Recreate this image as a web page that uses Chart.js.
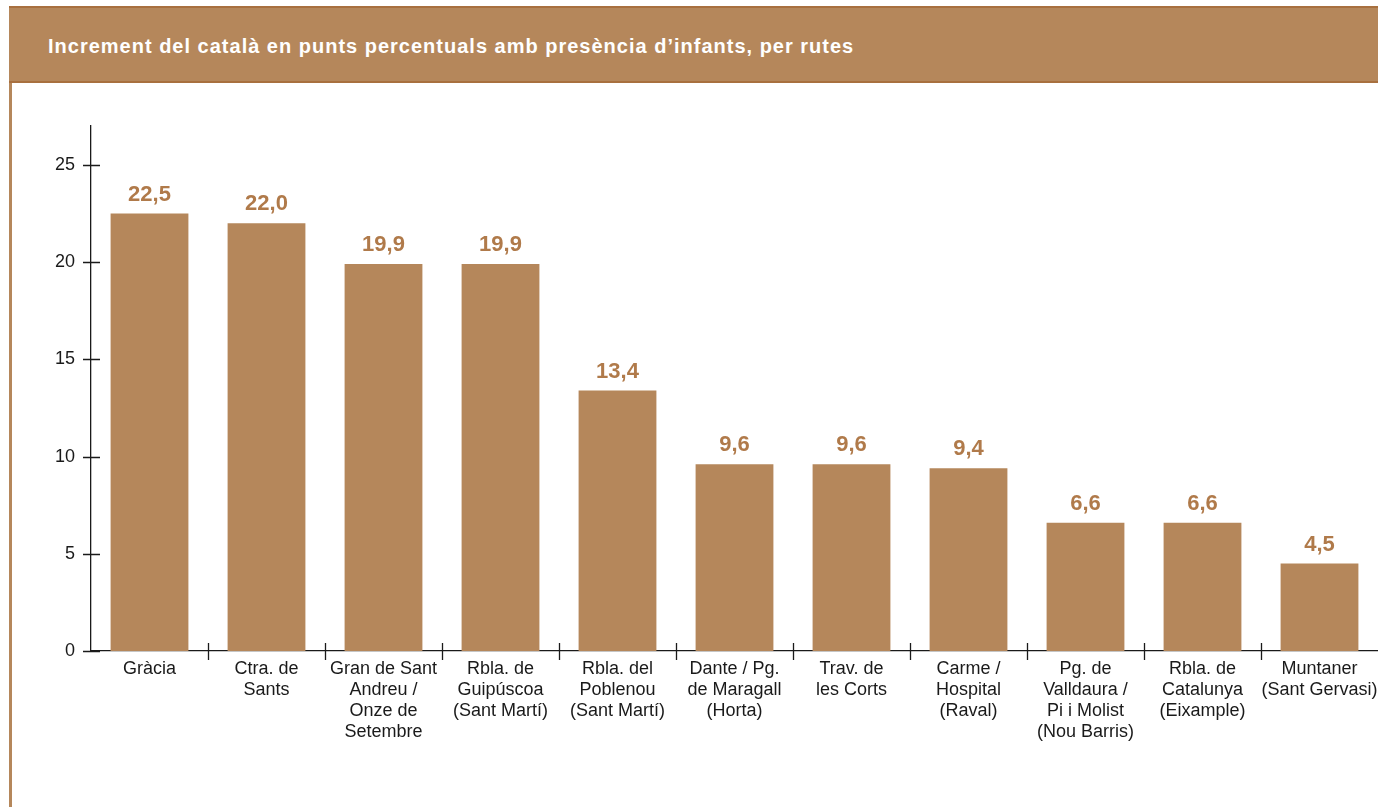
<!DOCTYPE html>
<html>
<head>
<meta charset="utf-8">
<script src="https://cdn.jsdelivr.net/npm/chart.js@4"></script>
<style>
  html, body { margin: 0; padding: 0; background: #fff; overflow: hidden; }
  body { width: 1378px; height: 807px; position: relative; }
  .header {
    position: absolute; left: 9px; top: 6px; width: 1380px; height: 73px;
    background: #b5875b; border-top: 2px solid #a8703f; border-bottom: 2px solid #a8703f;
    box-sizing: content-box;
  }
  .header h1 {
    margin: 0; position: absolute; left: 39px; top: 0; line-height: 77px;
    font-family: 'Liberation Sans', Arial, Helvetica, sans-serif;
    font-weight: bold; font-size: 20px; letter-spacing: 1px; color: #fff;
  }
  .side { position: absolute; left: 9px; top: 83px; width: 3px; height: 724px; background: #b5875b; }
  .chart-box { position: absolute; left: 12px; top: 84px; width: 1366px; height: 723px; }
</style>
</head>
<body>
<div class="header"><h1>Increment del català en punts percentuals amb presència d’infants, per rutes</h1></div>
<div class="side"></div>
<div class="chart-box"><canvas id="chart"></canvas></div>
<script>
// ── Data ──
const routes = [
  ['Gràcia'],
  ['Ctra. de', 'Sants'],
  ['Gran de Sant', 'Andreu /', 'Onze de', 'Setembre'],
  ['Rbla. de', 'Guipúscoa', '(Sant Martí)'],
  ['Rbla. del', 'Poblenou', '(Sant Martí)'],
  ['Dante / Pg.', 'de Maragall', '(Horta)'],
  ['Trav. de', 'les Corts'],
  ['Carme /', 'Hospital', '(Raval)'],
  ['Pg. de', 'Valldaura /', 'Pi i Molist', '(Nou Barris)'],
  ['Rbla. de', 'Catalunya', '(Eixample)'],
  ['Muntaner', '(Sant Gervasi)']
];
const increments = [22.5, 22.0, 19.9, 19.9, 13.4, 9.6, 9.6, 9.4, 6.6, 6.6, 4.5];
const yTicks = [0, 5, 10, 15, 20, 25];

const BROWN = '#b5875b';
const LABEL_BROWN = '#b07a4a';
const FONT = "'Liberation Sans', Arial, Helvetica, sans-serif";

// value labels above each bar, decimal comma
const valueLabels = {
  id: 'valueLabels',
  afterDatasetsDraw(chart) {
    const ctx = chart.ctx;
    const meta = chart.getDatasetMeta(0);
    ctx.save();
    ctx.fillStyle = LABEL_BROWN;
    ctx.font = 'bold 22px ' + FONT;
    ctx.textAlign = 'center';
    ctx.textBaseline = 'middle';
    meta.data.forEach((bar, i) => {
      ctx.fillText(increments[i].toFixed(1).replace('.', ','), bar.x, bar.y - 19);
    });
    ctx.restore();
  }
};

// tick marks that cross the axis lines
const crossTicks = {
  id: 'crossTicks',
  afterDraw(chart) {
    const ctx = chart.ctx;
    const x = chart.scales.x, y = chart.scales.y;
    ctx.save();
    ctx.strokeStyle = '#1a1a1a';
    ctx.lineWidth = 1.3;
    ctx.beginPath();
    y.ticks.forEach(t => {
      const py = Math.round(y.getPixelForValue(t.value)) + 0.5;
      ctx.moveTo(x.left - 8, py);
      ctx.lineTo(x.left + 9, py);
    });
    const half = (x.getPixelForValue(1) - x.getPixelForValue(0)) / 2;
    for (let i = 0; i < routes.length - 1; i++) {
      const px = Math.round(x.getPixelForValue(i) + half) + 0.5;
      ctx.moveTo(px, y.bottom - 8);
      ctx.lineTo(px, y.bottom + 9);
    }
    ctx.stroke();
    ctx.restore();
  }
};

new Chart(document.getElementById('chart'), {
  type: 'bar',
  data: {
    labels: routes,
    datasets: [{
      data: increments,
      backgroundColor: BROWN,
      borderWidth: 0,
      barPercentage: 0.665,
      categoryPercentage: 1
    }]
  },
  options: {
    responsive: true,
    maintainAspectRatio: false,
    animation: false,
    layout: { padding: { top: 42, right: 0, left: 0, bottom: 0 } },
    plugins: { legend: { display: false }, tooltip: { enabled: false } },
    scales: {
      x: {
        grid: { display: false, drawTicks: false },
        border: { display: true, color: '#1a1a1a', width: 1.3 },
        ticks: {
          color: '#1a1a1a', autoSkip: false, maxRotation: 0, padding: 8,
          font: { family: FONT, size: 18, lineHeight: '21px' }
        },
        afterFit(scale) {
          scale.height = 156;
          scale.paddingLeft = 0;
          scale.paddingRight = 0;
        }
      },
      y: {
        min: 0, max: 27,
        grid: { display: false, drawTicks: false },
        border: { display: true, color: '#1a1a1a', width: 1.3 },
        ticks: {
          stepSize: 5, color: '#1a1a1a', padding: 16,
          font: { family: FONT, size: 18 }
        },
        afterBuildTicks(scale) { scale.ticks = yTicks.map(v => ({ value: v })); },
        afterFit(scale) { scale.width = 79; }
      }
    }
  },
  plugins: [valueLabels, crossTicks]
});
</script>
</body>
</html>
